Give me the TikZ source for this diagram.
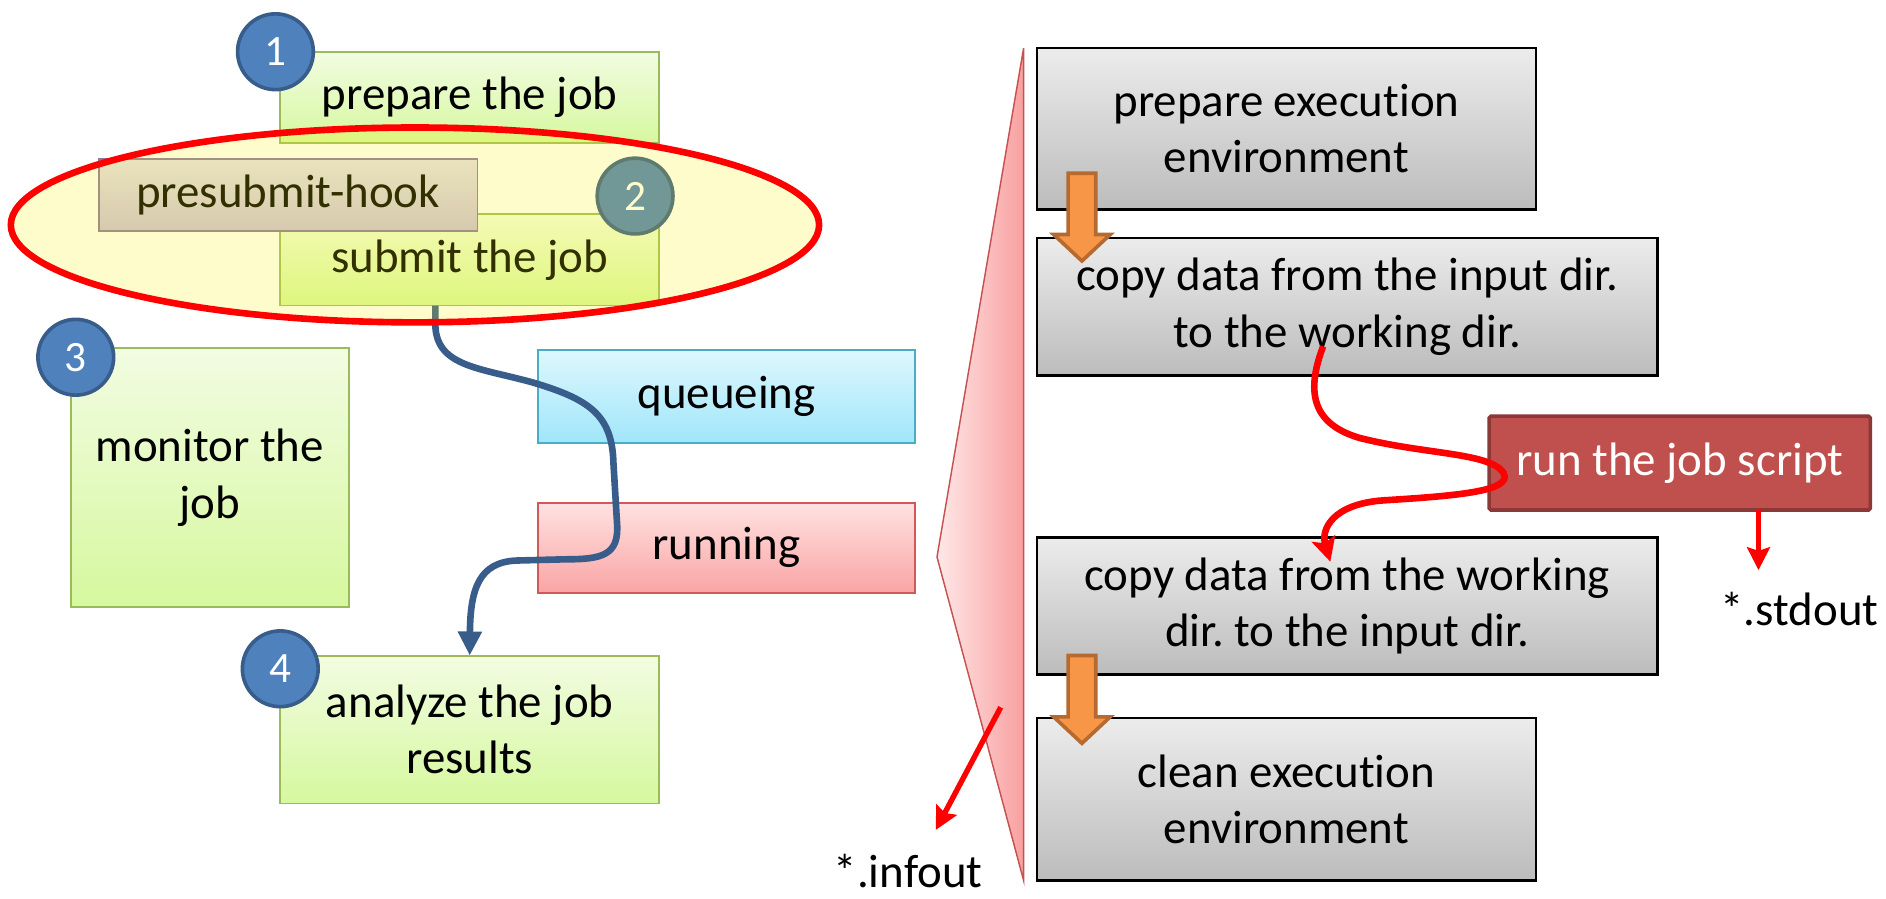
\documentclass[tikz,border=0pt]{standalone}
\usepackage{fontspec}
\setmainfont{Carlito}[Ligatures=NoCommon]
\frenchspacing
\usetikzlibrary{arrows.meta,shapes.geometric}
\definecolor{grnT}{RGB}{242,252,226}
\definecolor{grnB}{RGB}{214,248,158}
\definecolor{grnD}{RGB}{155,187,89}
\definecolor{hookT}{RGB}{229,224,236}
\definecolor{hookB}{RGB}{204,192,218}
\definecolor{hookD}{RGB}{140,120,160}
\definecolor{cyT}{RGB}{222,247,254}
\definecolor{cyB}{RGB}{160,230,250}
\definecolor{cyD}{RGB}{75,172,198}
\definecolor{pkT}{RGB}{255,226,226}
\definecolor{pkB}{RGB}{250,164,164}
\definecolor{pkD}{RGB}{208,90,90}
\definecolor{gyT}{RGB}{236,236,236}
\definecolor{gyB}{RGB}{188,188,188}
\definecolor{jobF}{RGB}{192,80,77}
\definecolor{jobD}{RGB}{140,56,54}
\definecolor{numF}{RGB}{79,129,189}
\definecolor{numD}{RGB}{56,93,138}
\definecolor{blueL}{RGB}{56,93,138}
\definecolor{orF}{RGB}{247,150,70}
\definecolor{orD}{RGB}{182,106,48}
\definecolor{wedgeL}{RGB}{255,232,232}
\definecolor{wedgeR}{RGB}{248,160,160}
\definecolor{wedgeD}{RGB}{200,80,80}
\begin{document}
\begin{tikzpicture}[x=1pt,y=-1pt,
  base/.style={inner sep=0pt, outer sep=0pt, align=center, font=\fontsize{39}{47}\selectfont},
  greenbox/.style={base, draw=grnD, line width=1.6pt, top color=grnT, bottom color=grnB},
  hookbox/.style={base, draw=hookD, line width=1.6pt, top color=hookT, bottom color=hookB},
  queuebox/.style={base, draw=cyD, line width=1.6pt, top color=cyT, bottom color=cyB},
  runningbox/.style={base, draw=pkD, line width=1.6pt, top color=pkT, bottom color=pkB},
  graybox/.style={base, draw=black, line width=2.2pt, top color=gyT, bottom color=gyB},
  jobbox/.style={base, draw=jobD, line width=3pt, fill=jobF, text=white, rounded corners=1.5pt},
  numcircle/.style={circle, draw=numD, line width=3pt, fill=numF, text=white, minimum size=63pt, inner sep=0pt, font=\fontsize{36}{40}\selectfont},
  bluecurve/.style={draw=blueL, line width=5.5pt, -{Triangle[length=20pt,width=19pt]}},
  redcurve/.style={draw=red, line width=5.5pt, -{Stealth[length=20pt,width=20pt,inset=4pt]}},
  redarrow/.style={draw=red, line width=4.5pt, -{Stealth[length=19pt,width=19pt,inset=3pt]}},
  blockarrow/.style={fill=orF, draw=orD, line width=3pt, line join=miter}
]
\useasboundingbox (0,0) rectangle (1568,747);

% left part
\node[greenbox, minimum width=315pt, minimum height=76pt] (prep) at (390.5,81) {prepare the job};
\node[numcircle] (n1) at (229,43) {1};
\node[greenbox, minimum width=315pt, minimum height=76pt] (submit) at (390.5,216) {submit the job};
\node[hookbox, minimum width=315pt, minimum height=60pt] (hook) at (239.5,162) {presubmit-hook};
\node[numcircle] (n2) at (528,163) {2};

\node[greenbox, minimum width=231pt, minimum height=215pt] (monitor) at (174.5,397) {monitor the\\job};
\node[numcircle] (n3) at (63,297) {3};
\node[queuebox, minimum width=314pt, minimum height=77pt] (queue) at (604,329.5) {queueing};
\node[runningbox, minimum width=314pt, minimum height=75pt] (running) at (604,455.5) {running};
\node[greenbox, minimum width=315pt, minimum height=123pt] (analyze) at (390.5,606.5) {analyze the job\\results};
\node[numcircle] (n4) at (233,556) {4};

\draw[bluecurve] ([xshift=-28.5pt]submit.south) -- (362,272)
  .. controls (364,305) and (400,306) .. (443,318)
  .. controls (490,332) and (509,345) .. (510,385)
  -- (513,435)
  .. controls (515,462) and (500,465) .. (470,465)
  -- (430,466)
  .. controls (398,467) and (391,490) .. (analyze.north);

\node[ellipse, draw=red, line width=5.5pt, fill=yellow, fill opacity=0.2, minimum width=672pt, minimum height=162pt, inner sep=0pt] (ring) at (345,187) {};

% wedge
\shadedraw[left color=wedgeL, right color=wedgeR, draw=wedgeD, line width=1.2pt] (851,40) -- (779,463) -- (851,732) -- cycle;

% right part
\node[graybox, minimum width=415pt, minimum height=134pt] (prepenv) at (1069.5,107) {prepare execution\\environment};
\node[graybox, minimum width=516pt, minimum height=114pt] (copy1) at (1120,255) {copy data from the input dir.\\to the working dir.};
\node[graybox, minimum width=516pt, minimum height=114pt] (copy2) at (1120,504) {copy data from the working\\dir. to the input dir.};
\node[graybox, minimum width=415pt, minimum height=135pt] (clean) at (1069.5,664.5) {clean execution\\environment};
\node[jobbox, minimum width=317pt, minimum height=78pt] (runjob) at (1396.5,385) {run the job script};

\filldraw[blockarrow] (888,144) -- (911,144) -- (911,195) -- (923,195) -- (899.5,217) -- (876,195) -- (888,195) -- cycle;
\filldraw[blockarrow] (888,545) -- (911,545) -- (911,596) -- (923,596) -- (899.5,618) -- (876,596) -- (888,596) -- cycle;

\draw[redcurve] ([shift={(-20,-24)}]copy1.south)
  .. controls (1086,325) and (1090,352) .. (1130,364)
  .. controls (1185,378) and (1238,376) .. (1250,393)
  .. controls (1258,408) and (1215,412) .. (1150,416)
  .. controls (1108,419) and (1098,440) .. ([shift={(-14,20)}]copy2.north);

\node[base, anchor=base] (stdout) at (1496,520) {*.stdout};
\coordinate (sotip) at (1462,474);
\draw[redarrow] (sotip |- runjob.south) -- (sotip);

\node[base, anchor=base] (infout) at (755,738) {*.infout};
\coordinate (ifstart) at (832,588);
\coordinate (iftip) at (778,690);
\draw[redarrow] (ifstart) -- (iftip);
\end{tikzpicture}
\end{document}
